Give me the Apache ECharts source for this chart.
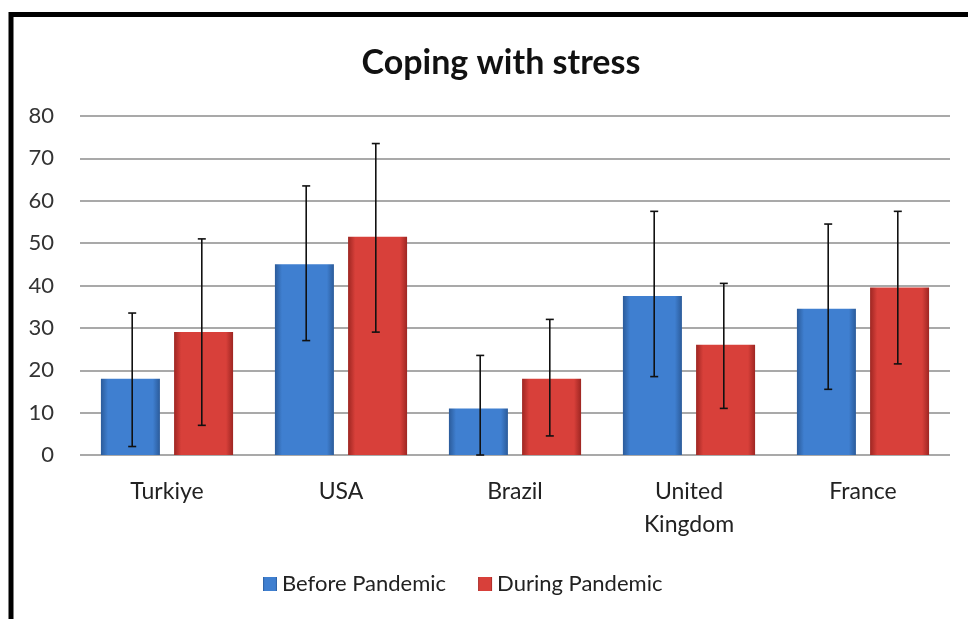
<!DOCTYPE html>
<html>
<head>
<meta charset="utf-8">
<script src="https://cdn.jsdelivr.net/npm/echarts@6/dist/echarts.min.js"></script>
<style>
  html, body { margin: 0; padding: 0; background: #fff; }
  #chart { width: 968px; height: 619px; }
</style>
</head>
<body>
<div id="chart"></div>
<script>
const countries = ["Turkiye", "USA", "Brazil", "United\nKingdom", "France"];
const beforeValues = [18, 45, 11, 37.5, 34.5];
const duringValues = [29, 51.5, 18, 26, 39.5];
const beforeLow = [2, 27, 0, 18.5, 15.5];
const beforeHigh = [33.5, 63.5, 23.5, 57.5, 54.5];
const duringLow = [7, 29, 4.5, 11, 21.5];
const duringHigh = [51, 73.5, 32, 40.5, 57.5];

const font = "Lato, 'Open Sans', sans-serif";

function barGradient(edge, mid) {
    return new echarts.graphic.LinearGradient(0, 0, 1, 0, [
        { offset: 0, color: edge },
        { offset: 0.12, color: mid },
        { offset: 0.88, color: mid },
        { offset: 1, color: edge },
    ]);
}
const blueFill = barGradient("#2b5b9a", "#3f7fd0");
const redFill = barGradient("#9e2622", "#d8403a");

// error bars drawn through the axis scales, offset onto each bar of the pair
function errorSeries(name, lows, highs, side) {
    return {
        name: name,
        type: "custom",
        z: 10,
        silent: true,
        data: lows.map((lo, i) => [i, lo, highs[i]]),
        renderItem: function (params, api) {
            const bandW = api.size([1, 0])[0];
            const offset = side * bandW * 0.2;
            const lo = api.coord([api.value(0), api.value(1)]);
            const hi = api.coord([api.value(0), api.value(2)]);
            const x = lo[0] + offset;
            const cap = 4;
            const style = { stroke: "#111", lineWidth: 1.6 };
            return {
                type: "group",
                children: [
                    { type: "line", shape: { x1: x, y1: lo[1], x2: x, y2: hi[1] }, style: style },
                    { type: "line", shape: { x1: x - cap, y1: lo[1], x2: x + cap, y2: lo[1] }, style: style },
                    { type: "line", shape: { x1: x - cap, y1: hi[1], x2: x + cap, y2: hi[1] }, style: style },
                ],
            };
        },
    };
}

const chart = echarts.init(document.getElementById("chart"));
chart.setOption({
    backgroundColor: "#fff",
    animation: false,
    title: {
        text: "Coping with stress",
        left: 496,
        textAlign: "center",
        top: 41,
        textStyle: { fontFamily: font, fontSize: 34, fontWeight: "bold", color: "#111" },
    },
    legend: {
        data: ["Before Pandemic", "During Pandemic"],
        left: 258,
        top: 568,
        icon: "rect",
        itemWidth: 14,
        itemHeight: 14,
        itemGap: 32,
        textStyle: { fontFamily: font, fontSize: 22, color: "#222" },
    },
    graphic: [
        {
            type: "polyline",
            shape: { points: [[11, 640], [11, 14.5], [990, 14.5]] },
            style: { stroke: "#000", lineWidth: 5, fill: null },
            z: 100,
        },
    ],
    grid: { left: 80, right: 18, top: 116, bottom: 164 },
    xAxis: {
        type: "category",
        data: countries,
        axisLine: { show: false },
        axisTick: { show: false },
        axisLabel: {
            fontFamily: font,
            fontSize: 23,
            color: "#222",
            margin: 20,
            lineHeight: 33,
            interval: 0,
        },
    },
    yAxis: {
        type: "value",
        min: 0,
        max: 80,
        interval: 10,
        axisLine: { show: false },
        axisTick: { show: false },
        axisLabel: { fontFamily: font, fontSize: 22, color: "#333", margin: 26 },
        splitLine: { lineStyle: { color: "#8c8c8c", width: 1.5 } },
    },
    series: [
        {
            name: "Before Pandemic",
            type: "bar",
            data: beforeValues,
            barWidth: 59,
            barGap: "24%",
            itemStyle: { color: blueFill },
        },
        {
            name: "During Pandemic",
            type: "bar",
            data: duringValues,
            barWidth: 59,
            itemStyle: { color: redFill },
        },
        errorSeries("Before error", beforeLow, beforeHigh, -1),
        errorSeries("During error", duringLow, duringHigh, 1),
    ],
});
</script>
</body>
</html>
